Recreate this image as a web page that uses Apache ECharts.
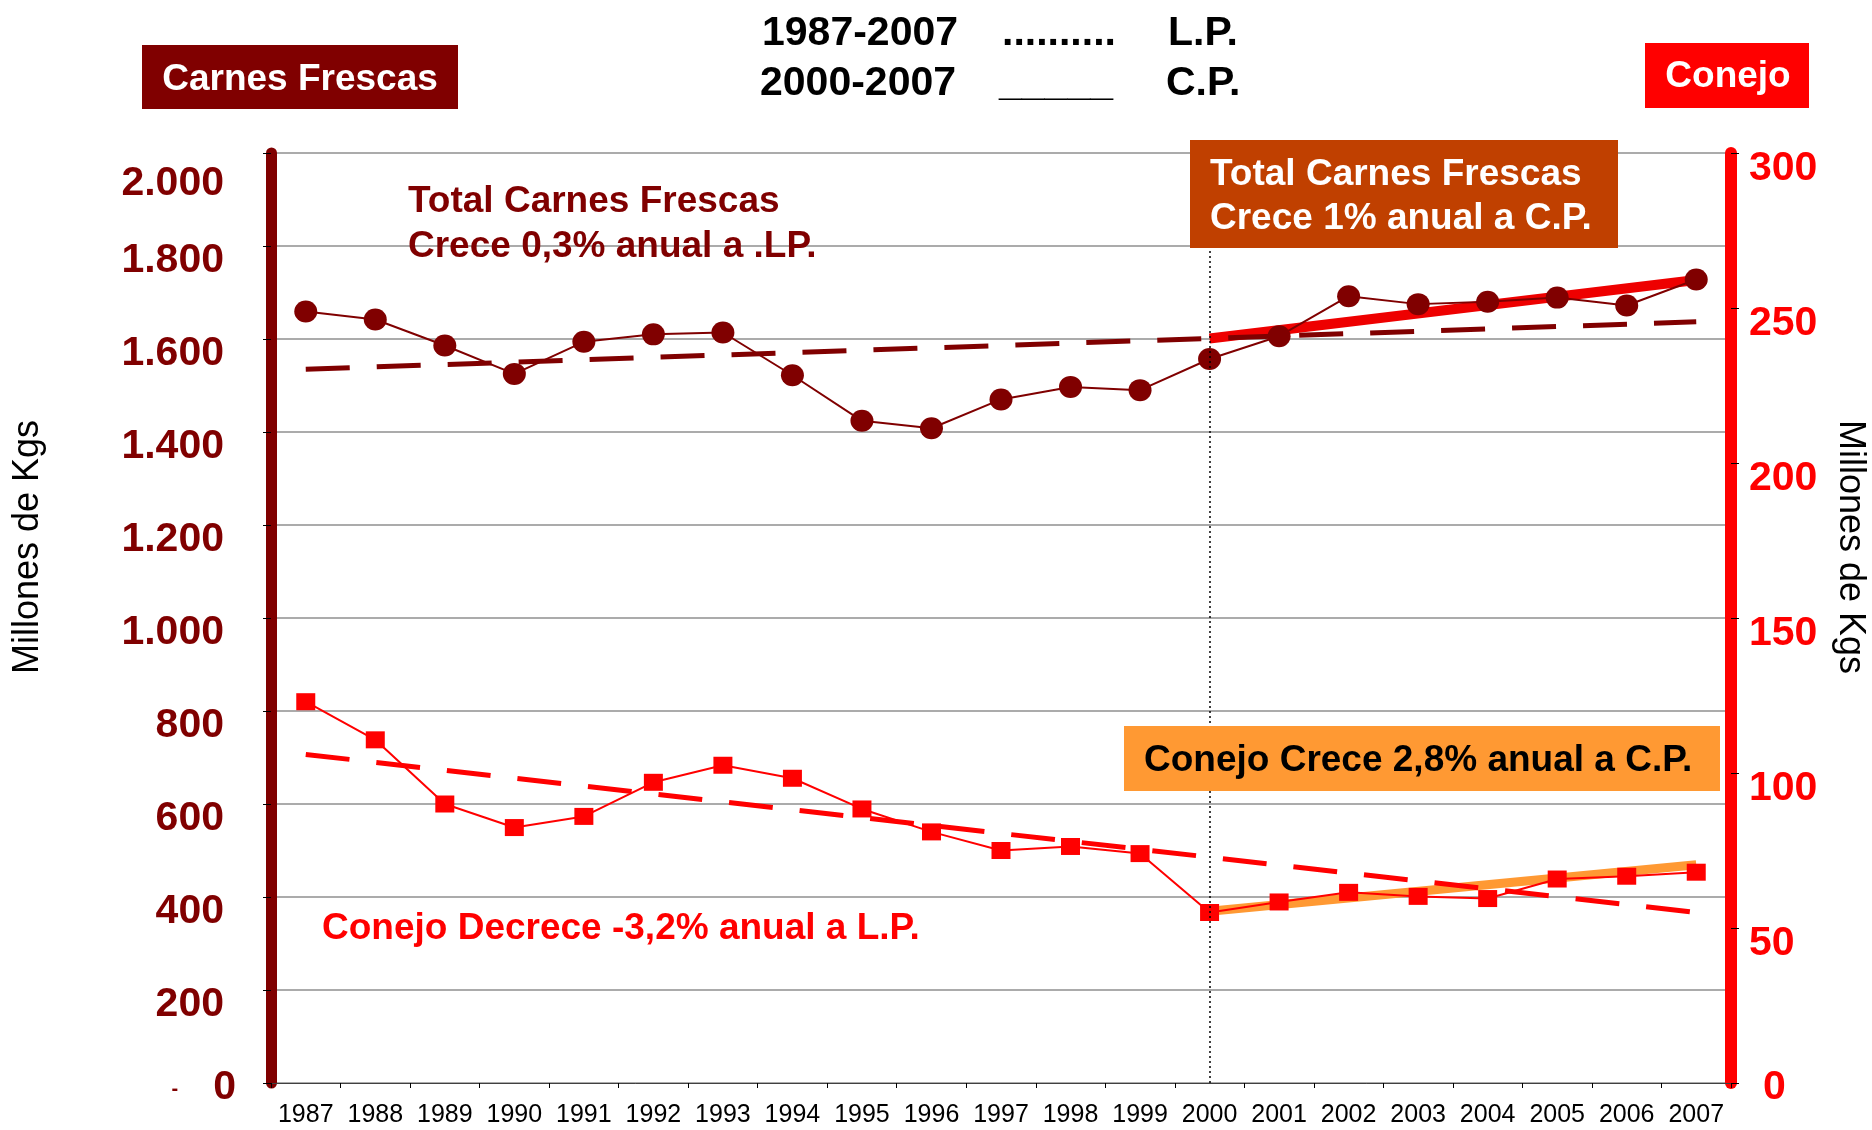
<!DOCTYPE html>
<html>
<head>
<meta charset="utf-8">
<script src="https://cdn.jsdelivr.net/npm/echarts@6/dist/echarts.min.js"></script>
<style>
  html, body { margin: 0; padding: 0; background: #fff; }
  #chart { width: 1872px; height: 1130px; }
</style>
</head>
<body>
<div id="chart"></div>
<script>
const n = null

const years = ['1987', '1988', '1989', '1990', '1991', '1992', '1993', '1994', '1995', '1996', '1997',
  '1998', '1999', '2000', '2001', '2002', '2003', '2004', '2005', '2006', '2007']

// Millones de Kgs
const totalCarnes = [1659, 1642, 1586, 1525, 1594, 1610, 1614, 1522, 1424, 1408, 1470,
  1497, 1490, 1557, 1606, 1692, 1675, 1680, 1689, 1672, 1728]
const conejo = [123, 110.7, 90, 82.4, 86, 97, 102.5, 98.3, 88.4, 81, 75,
  76.3, 74, 55, 58.4, 61.5, 60.2, 59.5, 65.8, 66.7, 68]

// trend lines (end points only)
const tendLPTotal = [1535, n, n, n, n, n, n, n, n, n, n, n, n, n, n, n, n, n, n, n, 1637]
const tendCPTotal = [n, n, n, n, n, n, n, n, n, n, n, n, n, 1601, n, n, n, n, n, n, 1727]
const tendLPConejo = [106, n, n, n, n, n, n, n, n, n, n, n, n, n, n, n, n, n, n, n, 55]
const tendCPConejo = [n, n, n, n, n, n, n, n, n, n, n, n, n, 55.4, n, n, n, n, n, n, 70.4]

// axis ranges: min, max, interval
const leftAxis = [0, 2000, 200]
const rightAxis = [0, 300, 50]

const FONT = '"Liberation Sans", Arial, sans-serif'
const DARK = '#800000'
const RED = '#FF0000'

const fmt = (v) => v >= 1000 ? Math.floor(v / 1000) + '.' + String(v % 1000).padStart(3, '0') : String(v)

const lbl = (color) => ({ fontFamily: FONT, fontSize: 41, fontWeight: 'bold', color })

const txt = (x, y, text, size, color, weight, align) => ({
  type: 'text', x, y, z: 100,
  style: {
    text, fill: color, font: `${weight || 'bold'} ${size}px ${FONT}`,
    align: align || 'left', verticalAlign: 'middle',
    textAlign: align || 'left', textVerticalAlign: 'middle'
  }
})

const box = (x, y, w, h, color) => ({
  type: 'rect', z: 99, shape: { x, y, width: w, height: h }, style: { fill: color }
})

const chart = echarts.init(document.getElementById('chart'))

const option = {
  animation: false,
  backgroundColor: '#fff',
  grid: { left: 271, right: 141, top: 153, bottom: 47 },
  xAxis: {
    type: 'category',
    data: years,
    boundaryGap: true,
    axisLine: { lineStyle: { color: '#404040', width: 1 } },
    axisTick: { show: true, length: 5, lineStyle: { color: '#000' } },
    axisLabel: { interval: 0, margin: 20, fontFamily: FONT, fontSize: 25, color: '#000' },
    splitLine: { show: false }
  },
  yAxis: [
    {
      type: 'value',
      min: leftAxis[0], max: leftAxis[1], interval: leftAxis[2],
      position: 'left',
      axisLine: { show: true, lineStyle: { color: DARK, width: 11 } },
      axisTick: { show: true, length: 8, lineStyle: { color: '#000' } },
      splitLine: { show: true, lineStyle: { color: '#ABABAB', width: 2 } },
      axisLabel: {
        margin: 35,
        formatter: (v) => v === 0 ? '{m|-}{z|0}' : v === leftAxis[1] ? '{t|' + fmt(v) + '}' : '{n|' + fmt(v) + '}',
        rich: {
          n: { ...lbl(DARK), padding: [30, 12, 0, 0] },
          t: { ...lbl(DARK), padding: [62, 12, 0, 0] },
          z: { ...lbl(DARK), padding: [9, 0, 0, 0] },
          m: { ...lbl(DARK), fontSize: 20, padding: [12, 35, 0, 0] }
        }
      }
    },
    {
      type: 'value',
      min: rightAxis[0], max: rightAxis[1], interval: rightAxis[2],
      position: 'right',
      axisLine: { show: true, lineStyle: { color: RED, width: 12 } },
      axisTick: { show: true, length: 8, lineStyle: { color: '#000' } },
      splitLine: { show: false },
      axisLabel: {
        margin: 18,
        formatter: (v) => v === 0 ? '{z|0}' : '{n|' + v + '}',
        rich: {
          n: { ...lbl(RED), padding: [31, 0, 0, 0] },
          z: { ...lbl(RED), padding: [9, 0, 0, 14] }
        }
      }
    }
  ],
  series: [
    {
      name: 'Tendencia C.P. Total', type: 'line', data: tendCPTotal, connectNulls: true,
      symbol: 'none', z: 2, silent: true,
      lineStyle: { color: '#EE0000', width: 10 }
    },
    {
      name: 'Tendencia C.P. Conejo', type: 'line', yAxisIndex: 1, data: tendCPConejo, connectNulls: true,
      symbol: 'none', z: 2, silent: true,
      lineStyle: { color: '#FF9933', width: 9 }
    },
    {
      name: 'Tendencia L.P. Total', type: 'line', data: tendLPTotal, connectNulls: true,
      symbol: 'none', z: 3, silent: true,
      lineStyle: { color: DARK, width: 5, type: [44, 27] }
    },
    {
      name: 'Tendencia L.P. Conejo', type: 'line', yAxisIndex: 1, data: tendLPConejo, connectNulls: true,
      symbol: 'none', z: 3, silent: true,
      lineStyle: { color: RED, width: 5, type: [44, 27] }
    },
    {
      name: 'Total Carnes Frescas', type: 'line', data: totalCarnes, z: 4,
      symbol: 'circle', symbolSize: [23, 22],
      itemStyle: { color: DARK },
      lineStyle: { color: DARK, width: 2 },
      markLine: {
        silent: true, symbol: 'none', label: { show: false },
        lineStyle: { color: '#000', width: 1.5, type: [2, 3] },
        data: [{ xAxis: '2000' }]
      }
    },
    {
      name: 'Conejo', type: 'line', yAxisIndex: 1, data: conejo, z: 4,
      symbol: 'rect', symbolSize: [19, 17],
      itemStyle: { color: RED },
      lineStyle: { color: RED, width: 2 }
    }
  ],
  graphic: [
    // titulo
    txt(762, 34, '1987-2007', 41, '#000'),
    txt(1002, 34, '..........', 41, '#000'),
    txt(1168, 34, 'L.P.', 41, '#000'),
    txt(760, 84, '2000-2007', 41, '#000'),
    txt(999, 84, '_____', 41, '#000'),
    txt(1166, 84, 'C.P.', 41, '#000'),
    // etiquetas de serie
    box(142, 45, 316, 64, DARK),
    txt(300, 80, 'Carnes Frescas', 37, '#fff', 'bold', 'center'),
    box(1645, 43, 164, 65, RED),
    txt(1728, 77, 'Conejo', 37, '#fff', 'bold', 'center'),
    // anotaciones
    txt(408, 202, 'Total Carnes Frescas', 37, DARK),
    txt(408, 247, 'Crece 0,3% anual a .LP.', 37, DARK),
    box(1190, 140, 428, 108, '#C04000'),
    txt(1210, 175, 'Total Carnes Frescas', 37, '#fff'),
    txt(1210, 219, 'Crece 1% anual a C.P.', 37, '#fff'),
    box(1124, 726, 596, 65, '#FF9933'),
    txt(1144, 761, 'Conejo Crece 2,8% anual a C.P.', 37, '#000'),
    txt(322, 929, 'Conejo Decrece -3,2% anual a L.P.', 37, RED),
    // nombres de ejes
    { ...txt(28, 547, 'Millones de Kgs', 36, '#000', 'normal', 'center'), rotation: Math.PI / 2 },
    { ...txt(1850, 547, 'Millones de Kgs', 36, '#000', 'normal', 'center'), rotation: -Math.PI / 2 }
  ]
}

chart.setOption(option)
window.addEventListener('resize', () => chart.resize())
</script>
</body>
</html>
